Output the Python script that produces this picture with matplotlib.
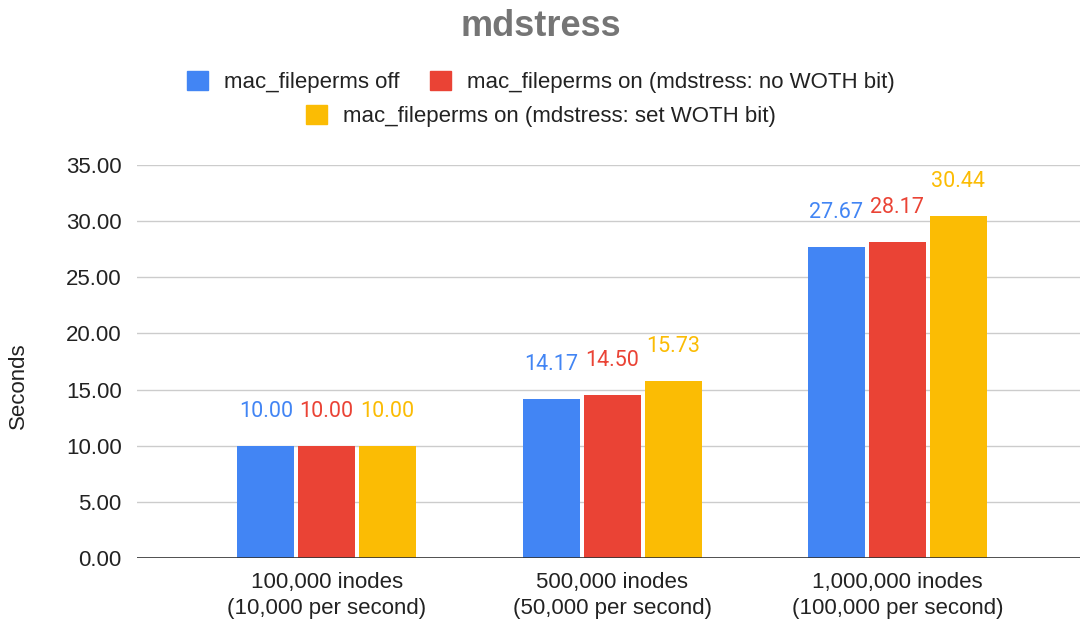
import numpy as np
import matplotlib
matplotlib.use("Agg")
import matplotlib.pyplot as plt
from matplotlib.patches import Patch

# data
groups = ["100,000 inodes\n(10,000 per second)",
          "500,000 inodes\n(50,000 per second)",
          "1,000,000 inodes\n(100,000 per second)"]
series_names = ["mac_fileperms off",
                "mac_fileperms on (mdstress: no WOTH bit)",
                "mac_fileperms on (mdstress: set WOTH bit)"]
perms_off = [10.00, 14.17, 27.67]
perms_no_woth = [10.00, 14.50, 28.17]
perms_set_woth = [10.00, 15.73, 30.44]
yticks = [0, 5, 10, 15, 20, 25, 30, 35]

colors = ["#4285F4", "#EA4335", "#FBBC04"]

plt.rcParams['font.family'] = ['Liberation Sans', 'DejaVu Sans']

fig = plt.figure(figsize=(10.82, 6.2), dpi=100)
ax = fig.add_axes([137/1082, 62/620, 943/1082, 393/620])

x = np.arange(len(groups))
width = 0.2
step = 0.2137
all_series = [perms_off, perms_no_woth, perms_set_woth]
for i, vals in enumerate(all_series):
    pos = x + (i - 1) * step
    bars = ax.bar(pos, vals, width=width, color=colors[i], zorder=3)
    for b, v in zip(bars, vals):
        ax.annotate(f"{v:.2f}", (b.get_x() + b.get_width()/2, v),
                    xytext=(0, 21), textcoords="offset points",
                    ha="center", va="baseline", fontsize=15.5,
                    color=colors[i], family=['Roboto', 'DejaVu Sans'])

ax.set_xlim(-0.665, 2.64)
ax.set_ylim(0, 35)
ax.set_yticks(yticks)
ax.set_yticklabels([f"{t:.2f}" for t in yticks])
ax.set_xticks(x)
ax.set_xticklabels(groups, linespacing=1.3)
ax.tick_params(axis="y", length=0, pad=11, labelsize=16, labelcolor="#222222")
ax.tick_params(axis="x", length=0, pad=10, labelsize=16, labelcolor="#222222")
ax.grid(axis="y", color="#cccccc", linewidth=1, zorder=0)
for s in ax.spines.values():
    s.set_visible(False)
ax.axhline(0, color="#333333", linewidth=1.2, zorder=4)

fig.text(18/1082, 1 - 386/620, "Seconds", rotation=90, ha="center", va="center",
         fontsize=16, color="#222222")
fig.text(0.5, 1 - 27/620, "mdstress", ha="center", va="center",
         fontsize=26, fontweight="bold", color="#757575")

handles = [Patch(facecolor=c, edgecolor=c) for c in colors]
leg_kw = dict(loc="center", frameon=False, fontsize=16, handlelength=0.95,
              handleheight=0.95, handletextpad=0.72, columnspacing=1.35,
              labelcolor="#222222", borderpad=0)
fig.legend(handles[:2], series_names[:2], ncol=2,
           bbox_to_anchor=(0.5, 1 - 82/620), **leg_kw)
fig.legend(handles[2:], series_names[2:], ncol=1,
           bbox_to_anchor=(0.5, 1 - 116/620), **leg_kw)

fig.savefig("out.png", dpi=100)
